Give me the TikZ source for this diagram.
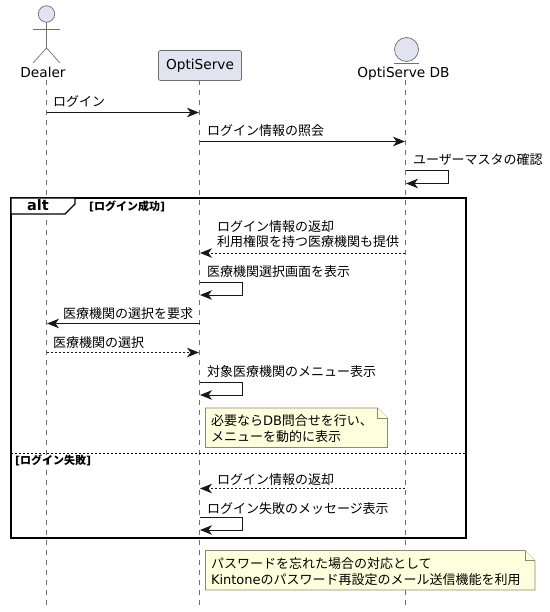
\documentclass[tikz,border=0pt]{standalone}
\usepackage{fontspec}
\setmainfont{DejaVu Sans}
\newfontfamily\jpfont{Noto Sans CJK JP}
\usetikzlibrary{arrows.meta}
\definecolor{partfill}{HTML}{E2E2F0}
\definecolor{partline}{HTML}{6F6F6F}
\definecolor{notefill}{HTML}{FEFFDD}
\definecolor{noteline}{HTML}{8A8A70}
\definecolor{inkc}{HTML}{181818}
\newcommand{\latn}[1]{{\rmfamily\fontspec{DejaVu Sans}#1}}
\tikzset{
  every node/.style={inner sep=0pt,outer sep=0pt,text=black},
  lifeline/.style={draw=partline,line width=.6pt,dash pattern=on 5pt off 5pt},
  msg/.style={draw=inkc,line width=.9pt,-{Stealth[length=12pt,width=9.5pt,inset=3.5pt]}},
  ret/.style={msg,dash pattern=on 2pt off 2pt},
  selfmsg/.style={msg,rounded corners=0pt},
  msgtext/.style={anchor=base west,font=\jpfont\fontsize{13}{15.5}\selectfont,align=left},
  parttext/.style={anchor=base,font=\fontsize{13.7}{16}\selectfont},
  notebox/.style={draw=noteline,fill=notefill,line width=.7pt},
  frameline/.style={draw=black,line width=2pt},
  groupdiv/.style={draw=black,line width=.8pt,dash pattern=on 2pt off 2pt},
  grouptext/.style={anchor=base west,font=\bfseries\fontsize{11}{13}\selectfont},
  actorline/.style={draw=partline,line width=.7pt},
}
\begin{document}
\begin{tikzpicture}[x=1pt,y=-1pt]
\useasboundingbox (0,0) rectangle (549,612);
% lifelines
\coordinate (Dt) at (46.5,80); \coordinate (Db) at (46.5,606);
\coordinate (Ot) at (199.5,80); \coordinate (Ob) at (199.5,606);
\coordinate (Bt) at (405.5,80); \coordinate (Bb) at (405.5,606);
\draw[lifeline] (Dt) -- (Db);
\draw[lifeline] (Ot) -- (Ob);
\draw[lifeline] (Bt) -- (Bb);
% Dealer actor
\node[circle,draw=partline,fill=partfill,line width=.7pt,minimum size=16.5pt] (dhead) at (46.5,14) {};
\coordinate (dhip) at (46.5,48); \coordinate (dla) at (33,29); \coordinate (dra) at (60,29);
\coordinate (dll) at (33,63); \coordinate (drl) at (60,63);
\draw[actorline] (dhead.south) -- (dhip);
\draw[actorline] (dla) -- (dra);
\draw[actorline] (dll) -- (dhip) -- (drl);
\node[parttext] (dealer) at (43,78) {Dealer};
% OptiServe
\node[draw=partline,fill=partfill,line width=.7pt,rounded corners=2pt,minimum width=83pt,minimum height=30pt] (opti) at (200,65.5) {};
\node[parttext] (optit) at (200,70) {OptiServe};
% DB entity
\node[circle,draw=partline,fill=partfill,line width=.7pt,minimum size=24pt] (dbc) at (406.5,49.5) {};
\coordinate (dbl) at (394,63); \coordinate (dbr) at (419,63);
\draw[actorline] (dbl) -- (dbr);
\node[parttext] (dbt) at (403.5,78) {OptiServe DB};
% frame
\coordinate (f1) at (11,198); \coordinate (f2) at (466,198); \coordinate (f3) at (466,538); \coordinate (f4) at (11,538);
\coordinate (t1) at (75,198); \coordinate (t2) at (75,204); \coordinate (t3) at (65,214); \coordinate (t4) at (11,214);
\draw[frameline] (f1) -- (f2) -- (f3) -- (f4) -- cycle;
\draw[draw=black,line width=1.2pt,fill=white] (f1) -- (t1) -- (t2) -- (t3) -- (t4) -- cycle;
\node[anchor=base,font=\bfseries\fontsize{14.5}{16}\selectfont] (alt) at (38,211) {alt};
\node[grouptext] (g1) at (89,211) {[{\jpfont\bfseries ログイン成功}]};
\coordinate (d1) at (11,453.5); \coordinate (d2) at (466,453.5);
\draw[groupdiv] (d1) -- (d2);
\node[grouptext] (g2) at (15,464) {[{\jpfont\bfseries ログイン失敗}]};
% messages
\coordinate (m1a) at (46.5,112.5); \coordinate (m1b) at (199,112.5);
\draw[msg] (m1a) -- (m1b);
\node[msgtext] (l1) at (53,107) {ログイン};
\coordinate (m2a) at (199.5,141.5); \coordinate (m2b) at (405,141.5);
\draw[msg] (m2a) -- (m2b);
\node[msgtext] (l2) at (207,136) {ログイン情報の照会};
\coordinate (m3a) at (405.5,170.5); \coordinate (m3c) at (448.5,170.5); \coordinate (m3d) at (448.5,183.5); \coordinate (m3b) at (406,183.5);
\draw[selfmsg] (m3a) -- (m3c) -- (m3d) -- (m3b);
\node[msgtext] (l3) at (413,165) {ユーザーマスタの確認};
\coordinate (m4a) at (405,253); \coordinate (m4b) at (200,253);
\draw[ret] (m4a) -- (m4b);
\node[msgtext] (l4) at (217,231) {ログイン情報の返却};
\node[msgtext] (l4b) at (217,246) {利用権限を持つ医療機関も提供};
\coordinate (m5a) at (199.5,282); \coordinate (m5c) at (242.5,282); \coordinate (m5d) at (242.5,295); \coordinate (m5b) at (200,295);
\draw[selfmsg] (m5a) -- (m5c) -- (m5d) -- (m5b);
\node[msgtext] (l5) at (207,276) {医療機関選択画面を表示};
\coordinate (m6a) at (199.5,323.5); \coordinate (m6b) at (47,323.5);
\draw[msg] (m6a) -- (m6b);
\node[msgtext] (l6) at (63,318) {医療機関の選択を要求};
\coordinate (m7a) at (46.5,352.5); \coordinate (m7b) at (199,352.5);
\draw[ret] (m7a) -- (m7b);
\node[msgtext] (l7) at (53,347) {医療機関の選択};
\coordinate (m8a) at (199.5,382); \coordinate (m8c) at (242.5,382); \coordinate (m8d) at (242.5,395); \coordinate (m8b) at (200,395);
\draw[selfmsg] (m8a) -- (m8c) -- (m8d) -- (m8b);
\node[msgtext] (l8) at (207,376) {対象医療機関のメニュー表示};
\coordinate (m9a) at (405,488.5); \coordinate (m9b) at (200,488.5);
\draw[ret] (m9a) -- (m9b);
\node[msgtext] (l9) at (217,484) {ログイン情報の返却};
\coordinate (m10a) at (199.5,517); \coordinate (m10c) at (242.5,517); \coordinate (m10d) at (242.5,530); \coordinate (m10b) at (200,530);
\draw[selfmsg] (m10a) -- (m10c) -- (m10d) -- (m10b);
\node[msgtext] (l10) at (207,513) {ログイン失敗のメッセージ表示};
% note 1
\coordinate (n1a) at (205.5,408); \coordinate (n1b) at (377.5,408); \coordinate (n1c) at (387.5,418); \coordinate (n1d) at (387.5,447.5); \coordinate (n1e) at (205.5,447.5); \coordinate (n1f) at (377.5,418);
\draw[notebox] (n1a) -- (n1b) -- (n1c) -- (n1d) -- (n1e) -- cycle;
\draw[notebox] (n1b) -- (n1f) -- (n1c);
\node[msgtext] (nt1) at (211,425) {必要なら\latn{DB}問合せを行い、};
\node[msgtext] (nt1b) at (211,441) {メニューを動的に表示};
% note 2
\coordinate (n2a) at (205.5,550.5); \coordinate (n2b) at (525,550.5); \coordinate (n2c) at (535,560.5); \coordinate (n2d) at (535,590); \coordinate (n2e) at (205.5,590); \coordinate (n2f) at (525,560.5);
\draw[notebox] (n2a) -- (n2b) -- (n2c) -- (n2d) -- (n2e) -- cycle;
\draw[notebox] (n2b) -- (n2f) -- (n2c);
\node[msgtext] (nt2) at (211,568) {パスワードを忘れた場合の対応として};
\node[msgtext] (nt2b) at (211,584) {\latn{Kintone}のパスワード再設定のメール送信機能を利用};
\end{tikzpicture}
\end{document}
